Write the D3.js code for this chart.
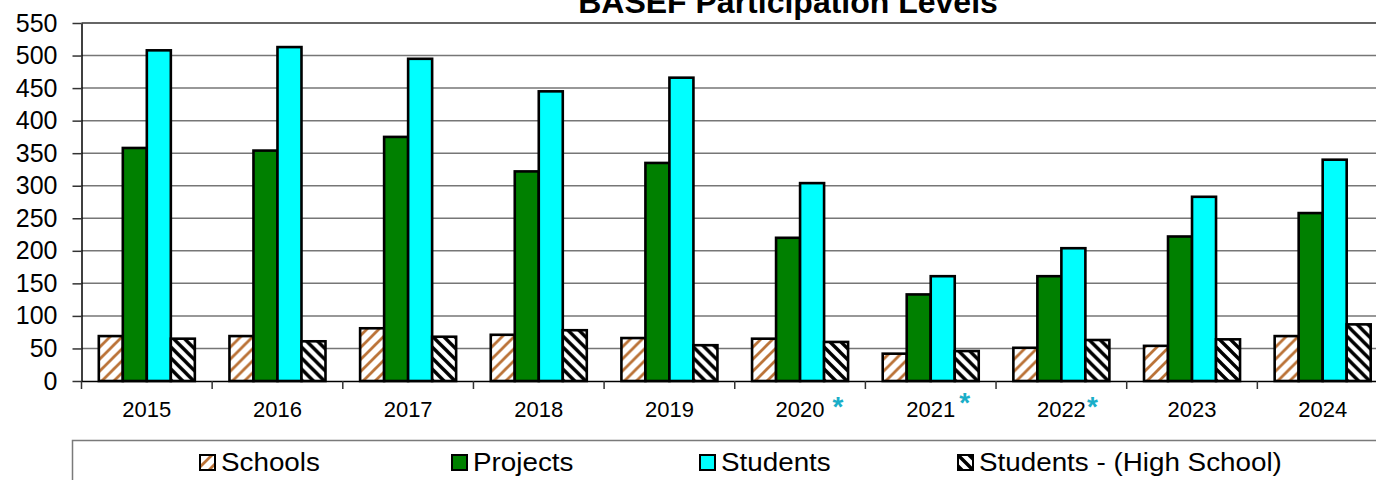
<!DOCTYPE html>
<html>
<head>
<meta charset="utf-8">
<script src="https://cdn.jsdelivr.net/npm/d3@7"></script>
<style>
  body { margin: 0; background: #fff; }
  svg { display: block; font-family: "Liberation Sans", Arial, sans-serif; }
</style>
</head>
<body>
<svg id="drawing_region"></svg>
<script>
// values
const years = ['2015', '2016', '2017', '2018', '2019', '2020', '2021', '2022', '2023', '2024'];
const schools    = [69, 69, 81, 71, 66, 65, 42, 51, 54, 69];
const projects   = [358, 354, 375, 322, 335, 220, 133, 161, 222, 258];
const students   = [508, 513, 495, 445, 466, 304, 161, 204, 283, 340];
const highSchool = [65, 61, 68, 78, 55, 60, 46, 63, 64, 87];
const seriesNames = ['Schools', 'Projects', 'Students', 'Students - (High School)'];
const yTicks = [0, 50, 100, 150, 200, 250, 300, 350, 400, 450, 500, 550];
const starredYears = ['2020', '2021', '2022'];
const title = 'BASEF Participation Levels';

const width = 1376, height = 480;
const svg = d3.select('#drawing_region')
    .attr('width', width)
    .attr('height', height);

const defs = svg.append('defs');

// brown "/" hatching for schools
const p1 = defs.append('pattern')
    .attr('id', 'hatchSchools')
    .attr('patternUnits', 'userSpaceOnUse')
    .attr('width', 12).attr('height', 12);
p1.append('rect').attr('width', 12).attr('height', 12).attr('fill', '#fff');
p1.append('path')
    .attr('d', 'M0,12 L12,0 M-3,3 L3,-3 M9,15 L15,9')
    .attr('stroke', '#bb7338').attr('stroke-width', 2.8);

// black "\" hatching for high school students
const p2 = defs.append('pattern')
    .attr('id', 'hatchHigh')
    .attr('patternUnits', 'userSpaceOnUse')
    .attr('width', 11).attr('height', 11);
p2.append('rect').attr('width', 11).attr('height', 11).attr('fill', '#fff');
p2.append('path')
    .attr('d', 'M0,0 L11,11 M-3,8 L3,14 M8,-3 L14,3')
    .attr('stroke', '#000').attr('stroke-width', 3.4);

const fills = ['url(#hatchSchools)', '#008000', '#00ffff', 'url(#hatchHigh)'];

const table = years.map((yr, i) => ({
    year: yr,
    values: [schools[i], projects[i], students[i], highSchool[i]]
}));

const plotLeft = 81.5, plotRight = 1388, plotTop = 23, plotBottom = 381;

const x0 = d3.scaleBand()
    .domain(years)
    .range([plotLeft, plotRight]);

const groupW = x0.bandwidth() * 0.735;
const x1 = d3.scaleBand()
    .domain(d3.range(4))
    .range([0, groupW]);

const y = d3.scaleLinear()
    .domain([0, 550])
    .range([plotBottom, plotTop]);

// gridlines
svg.append('g')
    .selectAll('line')
    .data(yTicks.filter(t => t > 0))
    .join('line')
    .attr('x1', plotLeft).attr('x2', plotRight)
    .attr('y1', d => y(d)).attr('y2', d => y(d))
    .attr('stroke', d => d === 550 ? '#333' : '#767676')
    .attr('stroke-width', 1.5);

// bars
const groups = svg.append('g')
    .selectAll('g')
    .data(table)
    .join('g')
    .attr('transform', d => `translate(${x0(d.year) + (x0.bandwidth() - groupW) / 2},0)`);

groups.selectAll('rect')
    .data(d => d.values)
    .join('rect')
    .attr('x', (d, i) => x1(i))
    .attr('y', d => y(d))
    .attr('width', x1.bandwidth())
    .attr('height', d => y(0) - y(d))
    .attr('fill', (d, i) => fills[i])
    .attr('stroke', '#000')
    .attr('stroke-width', 2.6);

// y axis
const yAxis = d3.axisLeft(y)
    .tickValues(yTicks)
    .tickSize(9)
    .tickPadding(15)
    .tickSizeOuter(0);

const yg = svg.append('g')
    .attr('transform', `translate(${plotLeft},0)`)
    .call(yAxis);
yg.select('.domain').attr('stroke', '#000').attr('stroke-width', 1.5);
yg.selectAll('.tick line').attr('stroke', '#333').attr('stroke-width', 1.5);
yg.selectAll('.tick text')
    .attr('font-size', 25)
    .attr('font-family', '"Liberation Sans", Arial, sans-serif')
    .attr('fill', '#000');

// x axis
const xAxis = d3.axisBottom(x0)
    .tickSize(0)
    .tickPadding(20)
    .tickSizeOuter(0);

const xg = svg.append('g')
    .attr('transform', `translate(0,${plotBottom})`)
    .call(xAxis);
xg.select('.domain').attr('stroke', '#000').attr('stroke-width', 1.5);
xg.selectAll('.tick text')
    .attr('font-size', 22)
    .attr('font-family', '"Liberation Sans", Arial, sans-serif')
    .attr('fill', '#000');

// band separators on x axis
xg.append('g')
    .selectAll('line')
    .data(years)
    .join('line')
    .attr('x1', d => x0(d)).attr('x2', d => x0(d))
    .attr('y1', 0).attr('y2', 8)
    .attr('stroke', '#333').attr('stroke-width', 1.5);

// asterisks
const starDx = {'2020': 38, '2021': 34, '2022': 31};
const starDy = {'2020': 416, '2021': 412, '2022': 416};
svg.append('g')
    .selectAll('text')
    .data(starredYears)
    .join('text')
    .attr('x', d => x0(d) + x0.bandwidth() / 2 + starDx[d])
    .attr('y', d => starDy[d])
    .attr('text-anchor', 'middle')
    .attr('font-size', 28)
    .attr('font-weight', 'bold')
    .attr('fill', '#1aaec8')
    .text('*');

// title (cut off at the top edge, as in the original)
svg.append('text')
    .attr('x', 788)
    .attr('y', 13)
    .attr('text-anchor', 'middle')
    .attr('font-size', 32)
    .attr('font-weight', 'bold')
    .text(title);

// legend
svg.append('rect')
    .attr('x', 72.5).attr('y', 440.5)
    .attr('width', 1400).attr('height', 100)
    .attr('fill', 'none')
    .attr('stroke', '#7a7a7a')
    .attr('stroke-width', 1.5);

const legendX = [200, 452, 700, 958];
const legend = svg.append('g')
    .selectAll('g')
    .data(seriesNames)
    .join('g')
    .attr('transform', (d, i) => `translate(${legendX[i]},455)`);

legend.append('rect')
    .attr('width', 15).attr('height', 15)
    .attr('fill', (d, i) => fills[i])
    .attr('stroke', '#000')
    .attr('stroke-width', 2);

legend.append('text')
    .attr('transform', 'translate(21,16) scale(1.07,1)')
    .attr('font-size', 26)
    .text(d => d);
</script>
</body>
</html>
